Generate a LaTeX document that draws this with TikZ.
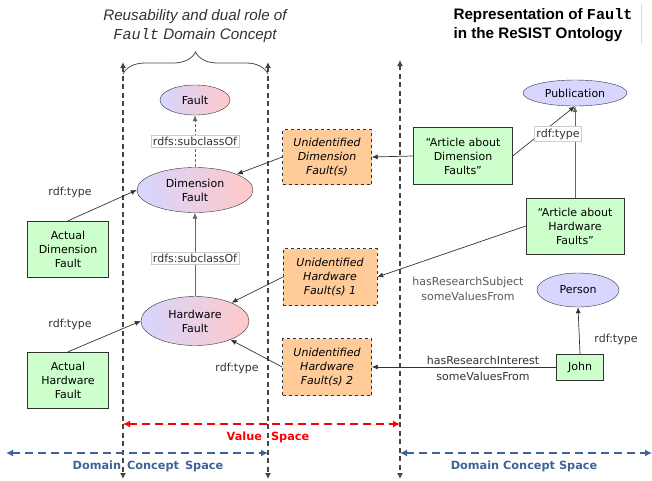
\documentclass[tikz,border=0pt]{standalone}
\usepackage{fontspec}
\setmainfont{DejaVu Sans}
\newfontfamily\titlefont{Liberation Sans}
\newfontfamily\codefont{Liberation Mono}
\usetikzlibrary{shapes.geometric,arrows.meta,decorations.pathreplacing}

\definecolor{lavender}{HTML}{D6D6FF}
\definecolor{pinkish}{HTML}{FFC8C8}
\definecolor{boxgreen}{HTML}{CCFFCC}
\definecolor{boxorange}{HTML}{FFCC99}
\definecolor{spaceblue}{HTML}{3F6396}
\definecolor{linegray}{HTML}{444444}
\definecolor{edgegray}{HTML}{333333}

\tikzset{
  tip/.style={-{Latex[length=6pt,width=5pt]}},
  concept/.style={ellipse, draw=edgegray, inner sep=0pt, align=center,
    left color=lavender, right color=pinkish, shading angle=90,
    font=\fontsize{11}{14}\selectfont},
  classnode/.style={ellipse, draw=edgegray, fill=lavender, inner sep=0pt,
    align=center, font=\fontsize{11}{14}\selectfont},
  instbox/.style={rectangle, draw=edgegray, fill=boxgreen, inner sep=0pt,
    align=center, font=\fontsize{11}{14}\selectfont},
  unknownbox/.style={rectangle, draw=edgegray, dashed, fill=boxorange,
    inner sep=0pt, align=center,
    font=\fontsize{11}{14}\selectfont\itshape},
  rel/.style={tip, draw=edgegray, line width=0.7pt},
  softrel/.style={tip, draw=gray!80!black, line width=0.7pt},
  relbox/.style={rectangle, draw=black!20, fill=white, inner sep=2pt,
    font=\fontsize{11}{13}\selectfont, text=edgegray},
  rellabel/.style={align=center, inner sep=0pt,
    font=\fontsize{11}{15}\selectfont, text=edgegray},
  divider/.style={draw=linegray, line width=1.3pt,
    dash pattern=on 5pt off 3.5pt,
    {Latex[length=6pt,width=6pt]}-{Latex[length=6pt,width=6pt]}},
  spanarrow/.style={line width=1.3pt, dash pattern=on 8pt off 5pt,
    {Latex[length=7pt,width=7pt]}-{Latex[length=7pt,width=7pt]}},
  spanlabel/.style={font=\fontsize{11.3}{13}\selectfont\bfseries, inner sep=0pt}
}

\begin{document}
\begin{tikzpicture}[x=1pt, y=-1pt]
\useasboundingbox (0,0) rectangle (652,480);

% headings
\node[align=center, font=\titlefont\fontsize{15.2}{19}\selectfont\itshape, text=black!80]
  (lefttitle) at (195,26)
  {Reusability and dual role of\\{\codefont\itshape Fault} Domain Concept};
\node[anchor=north west, align=left, font=\titlefont\fontsize{15.2}{19}\selectfont\bfseries]
  (righttitle) at (450,5)
  {Representation of {\codefont\bfseries Fault}\\in the ReSIST Ontology};
\coordinate (edgetop) at (641,4);
\coordinate (edgebot) at (641,44);
\draw[black!15, line width=0.8pt] (edgetop) -- (edgebot);

% dividing lines
\coordinate (d1t) at (123,62);  \coordinate (d1b) at (123,479);
\coordinate (d2t) at (268,62);  \coordinate (d2b) at (268,479);
\coordinate (d3t) at (400,60);  \coordinate (d3b) at (400,479);
\draw[divider] (d1t) -- (d1b);
\draw[divider] (d2t) -- (d2b);
\draw[divider] (d3t) -- (d3b);

% brace over the domain concept column
\coordinate (bl) at (123,74);
\coordinate (br) at (268,74);
\draw[black!70, line width=0.8pt, decorate,
  decoration={brace, amplitude=22pt}] (bl) -- (br);

% domain concepts
\node[concept, minimum width=70pt, minimum height=30pt] (fault) at (195,100) {Fault};
\node[concept, minimum width=116pt, minimum height=45pt] (dimf) at (195,190) {Dimension\\Fault};
\node[concept, minimum width=108pt, minimum height=49pt] (hwf) at (195,321) {Hardware\\Fault};

% individuals
\node[instbox, minimum width=81pt, minimum height=56pt] (adf) at (68,249) {Actual\\Dimension\\Fault};
\node[instbox, minimum width=81pt, minimum height=56pt] (ahf) at (68,380) {Actual\\Hardware\\Fault};

% unidentified values
\node[unknownbox, minimum width=89pt, minimum height=55pt] (udf) at (327,157) {Unidentified\\Dimension\\Fault(s)};
\node[unknownbox, minimum width=94pt, minimum height=57pt] (uhf1) at (330,277) {Unidentified\\Hardware\\Fault(s) 1};
\node[unknownbox, minimum width=89pt, minimum height=57pt] (uhf2) at (327,367) {Unidentified\\Hardware\\Fault(s) 2};

% ontology side
\node[classnode, minimum width=104pt, minimum height=26pt] (pub) at (575,93) {Publication};
\node[instbox, minimum width=99pt, minimum height=57pt] (artd) at (463,156) {``Article about\\Dimension\\Faults''};
\node[instbox, minimum width=98pt, minimum height=56pt] (arth) at (575,226) {``Article about\\Hardware\\Faults''};
\node[classnode, minimum width=82pt, minimum height=34pt] (person) at (578,290) {Person};
\node[instbox, minimum width=47pt, minimum height=26pt] (john) at (580,367) {John};

% subclass links
\draw[softrel, dash pattern=on 3pt off 2pt] (dimf.north) -- (fault.south);
\node[relbox] (sub1) at (195,141) {rdfs:subclassOf};
\draw[softrel] (hwf.north) -- (dimf.south);
\node[relbox] (sub2) at (195,258) {rdfs:subclassOf};

% typing links
\draw[rel] (adf.north) -- (dimf.west);
\node[rellabel] (t1) at (70,192) {rdf:type};
\draw[rel] (ahf.north) -- (hwf.west);
\node[rellabel] (t2) at (70,324) {rdf:type};
\draw[rel] (udf.west) -- (dimf);
\draw[rel] (uhf1.west) -- (hwf);
\draw[rel] (uhf2.west) -- (hwf);
\node[rellabel] (t3) at (237,368) {rdf:type};

% publication links
\draw[rel] (artd.west) -- (udf.east);
\draw[rel] (artd.east) -- (pub.south);
\draw[softrel] (arth.north) -- (pub.south);
\node[relbox] (t4) at (558,134) {rdf:type};
\draw[rel] (arth.west) -- (uhf1.east);
\node[rellabel, text=black!65] (subj) at (468,289) {hasResearchSubject\\someValuesFrom};

% person links
\draw[rel] (john.north) -- (person.south);
\node[rellabel] (t5) at (616,339) {rdf:type};
\draw[rel] (john.west) -- (uhf2.east);
\node[rellabel] (intr1) at (483,360) {hasResearchInterest};
\node[rellabel] (intr2) at (483,376) {someValuesFrom};

% value space
\coordinate (vsl) at (123,424);
\coordinate (vsr) at (400,424);
\draw[spanarrow, red] (vsl) -- (vsr);
\node[spanlabel, text=red] (vslabel) at (268,437) {Value\hspace{9pt}Space};

% domain concept spaces
\coordinate (dl1) at (6,453);
\coordinate (dl2) at (268,453);
\draw[spanarrow, spaceblue] (dl1) -- (dl2);
\node[spanlabel, text=spaceblue] (dclabel1) at (148,466) {Domain\hspace{6pt}Concept\hspace{6pt}Space};
\coordinate (dr1) at (400,453);
\coordinate (dr2) at (652,453);
\draw[spanarrow, spaceblue] (dr1) -- (dr2);
\node[spanlabel, text=spaceblue] (dclabel2) at (524,466) {Domain Concept Space};
\end{tikzpicture}
\end{document}
